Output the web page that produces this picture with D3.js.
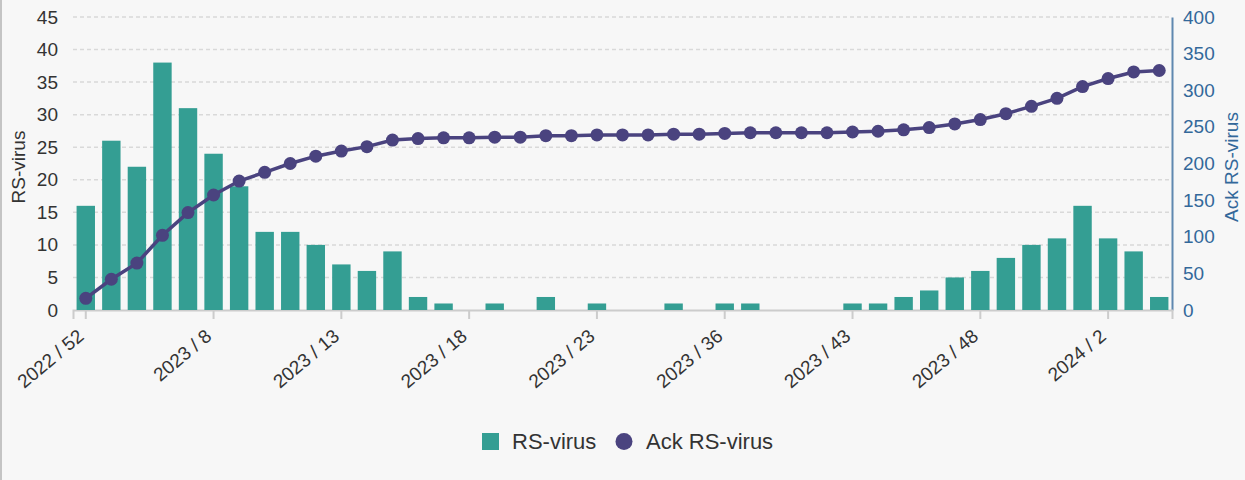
<!DOCTYPE html>
<meta charset="utf-8">
<script src="https://d3js.org/d3.v7.min.js"></script>
<style>
  body { margin: 0; background-color: #f7f7f7; }
  svg { display: block; font-family: "Liberation Sans", Arial, sans-serif; }
</style>
<svg id="chart" width="1245" height="480"></svg>
<script>

// weeks (only every 5th label is shown on the axis)
var weeks = ["2022 / 52","2023 / 1","2023 / 3","2023 / 5","2023 / 7",
  "2023 / 8","2023 / 9","2023 / 10","2023 / 11","2023 / 12",
  "2023 / 13","2023 / 14","2023 / 15","2023 / 16","2023 / 17",
  "2023 / 18","2023 / 19","2023 / 20","2023 / 21","2023 / 22",
  "2023 / 23","2023 / 24","2023 / 26","2023 / 31","2023 / 34",
  "2023 / 36","2023 / 37","2023 / 38","2023 / 40","2023 / 41",
  "2023 / 43","2023 / 44","2023 / 45","2023 / 46","2023 / 47",
  "2023 / 48","2023 / 49","2023 / 50","2023 / 51","2023 / 52",
  "2024 / 2","2024 / 3","2024 / 4"]

// RS-virus cases per week
var cases = [16,26,22,38,31,24,19,12,12,10,7,6,9,2,1,0,1,0,2,0,1,0,0,1,0,1,1,0,0,0,
  1,1,2,3,5,6,8,10,11,16,11,9,2]

// Ack RS-virus (cumulative)
var cumulative = [16,42,64,102,133,157,176,188,200,210,217,223,232,234,235,235,236,236,238,238,
  239,239,239,240,240,241,242,242,242,242,243,244,246,249,254,260,268,278,289,305,316,325,327]

var leftTicks = [0,5,10,15,20,25,30,35,40,45]
var rightTicks = [0,50,100,150,200,250,300,350,400]

var svg = d3.select("#chart")
var margin = {left: 73, right: 1172, top: 17, bottom: 310}

// left border of the container
svg.append("rect").attr("x", 0).attr("y", 0).attr("width", 2).attr("height", 480).attr("fill", "#c4c4c4")

var x = d3.scaleBand()
  .domain(weeks)
  .range([margin.left, margin.right])
  .paddingInner(0.28)
  .paddingOuter(0.14)

var xc = function(d){ return x(d) + x.bandwidth()/2 }

var yL = d3.scaleLinear().domain([0, 45]).range([margin.bottom, margin.top])
var yR = d3.scaleLinear().domain([0, 400]).range([margin.bottom, margin.top])

// grid lines
svg.append("g")
  .selectAll("line")
  .data(leftTicks.slice(1))
  .enter()
  .append("line")
    .attr("x1", margin.left).attr("x2", margin.right)
    .attr("y1", function(d){ return yL(d) }).attr("y2", function(d){ return yL(d) })
    .attr("stroke", "#d9d9d9")
    .attr("stroke-width", 1.5)
    .attr("stroke-dasharray", "4,3")

// left axis labels
var leftAxis = svg.append("g")
  .attr("transform", "translate(" + (margin.left - 15) + ",0)")
  .call(d3.axisLeft(yL).tickValues(leftTicks).tickSize(0).tickPadding(0))
leftAxis.select(".domain").remove()
leftAxis.selectAll("text").attr("fill", "#333").style("font-size", "19px")

// right axis
var rightAxis = svg.append("g")
  .attr("transform", "translate(" + margin.right + ",0)")
  .call(d3.axisRight(yR).tickValues(rightTicks).tickSize(0).tickPadding(11))
rightAxis.select(".domain").attr("stroke", "#5f88b0").attr("stroke-width", 2)
rightAxis.selectAll("text").attr("fill", "#33689a").style("font-size", "19px")

// x axis
var xAxis = svg.append("g")
  .attr("transform", "translate(0," + margin.bottom + ")")
  .call(d3.axisBottom(x)
    .tickValues(weeks.filter(function(d, i){ return i % 5 === 0 }))
    .tickSizeOuter(0).tickSize(9).tickPadding(4))
xAxis.select(".domain").attr("stroke", "#cccccc").attr("stroke-width", 2)
xAxis.selectAll(".tick line").attr("stroke", "#cccccc").attr("stroke-width", 2)
xAxis.selectAll("text")
  .attr("fill", "#333")
  .style("font-size", "19px")
  .attr("text-anchor", "end")
  .attr("x", 0)
  .attr("y", 0)
  .attr("dy", "0.35em")
  .attr("transform", "translate(-5,23) rotate(-40)")

// bars
svg.append("g")
  .selectAll("rect")
  .data(cases)
  .enter()
  .append("rect")
    .attr("x", function(d, i){ return x(weeks[i]) })
    .attr("y", function(d){ return yL(d) })
    .attr("width", x.bandwidth())
    .attr("height", function(d){ return yL(0) - yL(d) })
    .attr("fill", "#349e93")

// cumulative line
var line = d3.line()
  .x(function(d, i){ return xc(weeks[i]) })
  .y(function(d){ return yR(d) })

svg.append("path")
  .datum(cumulative)
  .attr("fill", "none")
  .attr("stroke", "#4a437f")
  .attr("stroke-width", 3.5)
  .attr("d", line)

svg.append("g")
  .selectAll("circle")
  .data(cumulative)
  .enter()
  .append("circle")
    .attr("cx", function(d, i){ return xc(weeks[i]) })
    .attr("cy", function(d){ return yR(d) })
    .attr("r", 6.5)
    .attr("fill", "#4a437f")

// axis titles
svg.append("text")
  .attr("transform", "translate(25,167) rotate(-90)")
  .attr("text-anchor", "middle")
  .attr("fill", "#333")
  .style("font-size", "19px")
  .text("RS-virus")

svg.append("text")
  .attr("transform", "translate(1238,167) rotate(-90)")
  .attr("text-anchor", "middle")
  .attr("fill", "#33689a")
  .style("font-size", "19px")
  .text("Ack RS-virus")

// legend
var legend = svg.append("g")
legend.append("rect").attr("x", 482).attr("y", 433).attr("width", 17).attr("height", 17).attr("fill", "#349e93")
legend.append("text").attr("x", 512).attr("y", 449).attr("fill", "#333").style("font-size", "22px").text("RS-virus")
legend.append("circle").attr("cx", 624).attr("cy", 441.5).attr("r", 8.5).attr("fill", "#4a437f")
legend.append("text").attr("x", 646).attr("y", 449).attr("fill", "#333").style("font-size", "22px").text("Ack RS-virus")

</script>
